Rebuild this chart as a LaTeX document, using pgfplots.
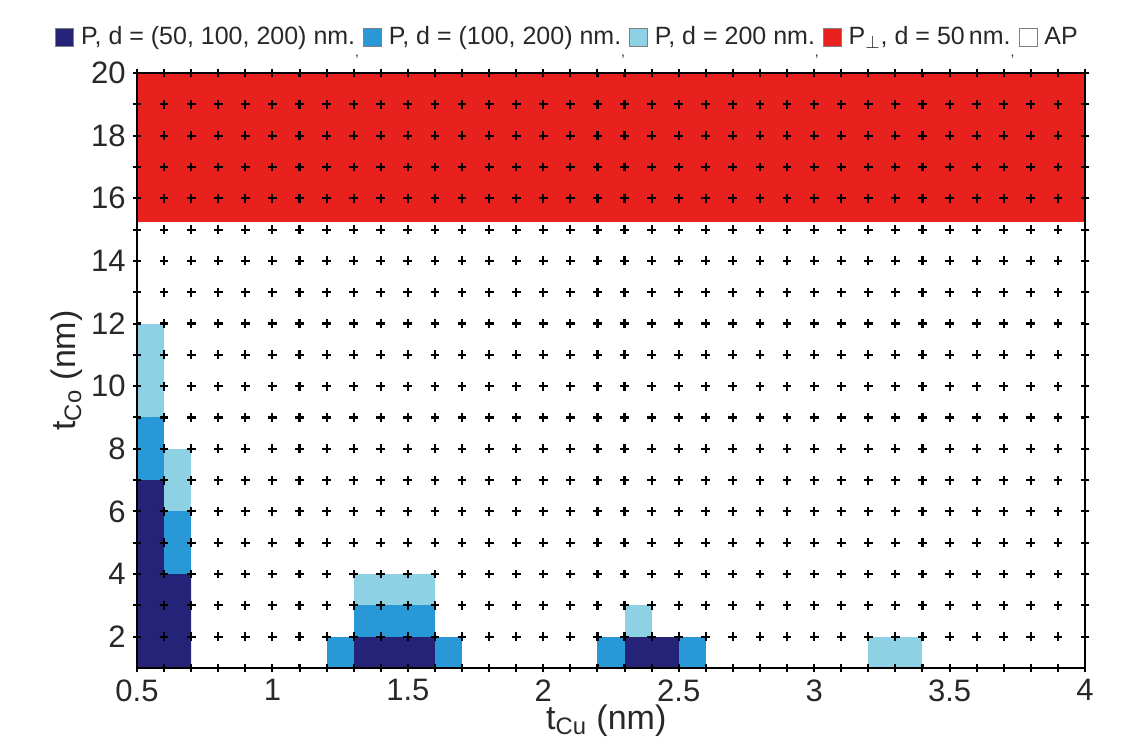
\documentclass[border=0pt]{standalone}
\usepackage{fontspec}
\setmainfont{Liberation Sans}
\usepackage{pgfplots}
\pgfplotsset{compat=1.18}
\definecolor{darkb}{RGB}{37,35,120}
\definecolor{medb}{RGB}{40,152,214}
\definecolor{lightb}{RGB}{142,208,228}
\definecolor{redc}{RGB}{232,33,30}
\definecolor{txt}{RGB}{40,40,40}
\newcommand\lc{\raisebox{-6pt}{\fontsize{7}{7}\selectfont,}}
\begin{document}
\begin{tikzpicture}
\begin{axis}[
  scale only axis, width=474pt, height=297.5pt,
  xmin=0.5, xmax=4, ymin=1, ymax=20,
  xtick={0.5,1,...,4}, minor x tick num=4,
  ytick={2,4,...,20}, minor y tick num=1,
  xticklabels={0.5,1,1.5,2,2.5,3,3.5,4},
  tick align=center, major tick length=4.4pt, minor tick length=4.4pt,
  tick style={black, line width=1pt},
  axis line style={black, line width=1.2pt},
  grid=both,
  major grid style={black, line width=1.05pt},
  minor grid style={black, line width=1.05pt},
  x grid style={dash pattern=on 4.4pt off 11.257895pt, dash phase=2.2pt},
  y grid style={dash pattern=on 4.4pt off 9.142857pt, dash phase=2.2pt},
  axis on top,
  /pgf/number format/assume math mode=true,
  ticklabel style={font=\fontsize{15.5}{18}\selectfont, text=txt},
  xlabel={t\textsubscript{Cu} (nm)},
  ylabel={t\textsubscript{Co} (nm)},
  every axis x label/.style={at={(axis description cs:0.495,0)}, anchor=base, yshift=-30.5pt,
    font=\fontsize{17}{20}\selectfont, text=txt},
  every axis y label/.style={at={(axis description cs:-0.0738,0.5)}, anchor=center, rotate=90,
    font=\fontsize{17}{20}\selectfont, text=txt},
  legend columns=-1,
  legend image code/.code={\draw[#1] (0pt,-4.5pt) rectangle (9pt,4.5pt);},
  legend style={at={(axis description cs:-0.0865,1.0605)}, anchor=west, draw=none, fill=none,
    font=\fontsize{12.5}{14}\selectfont, text=txt, inner xsep=0pt,
    nodes={inner xsep=2pt}},
]
% P perpendicular, d = 50 nm
\addplot[fill=redc, draw=none, forget plot] coordinates {(0.5,15.25) (0.5,20) (4,20) (4,15.25)} -- cycle;
% P, d = (50,100,200) nm
\addplot[fill=darkb, draw=none, forget plot] coordinates {(0.5,1) (0.5,7) (0.6,7) (0.6,4) (0.7,4) (0.7,1)} -- cycle;
\addplot[fill=darkb, draw=none, forget plot] coordinates {(1.3,1) (1.3,2) (1.6,2) (1.6,1)} -- cycle;
\addplot[fill=darkb, draw=none, forget plot] coordinates {(2.3,1) (2.3,2) (2.5,2) (2.5,1)} -- cycle;
% P, d = (100,200) nm
\addplot[fill=medb, draw=none, forget plot] coordinates {(0.5,7) (0.5,9) (0.6,9) (0.6,7)} -- cycle;
\addplot[fill=medb, draw=none, forget plot] coordinates {(0.6,4) (0.6,6) (0.7,6) (0.7,4)} -- cycle;
\addplot[fill=medb, draw=none, forget plot] coordinates {(1.2,1) (1.2,2) (1.3,2) (1.3,1)} -- cycle;
\addplot[fill=medb, draw=none, forget plot] coordinates {(1.3,2) (1.3,3) (1.6,3) (1.6,2)} -- cycle;
\addplot[fill=medb, draw=none, forget plot] coordinates {(1.6,1) (1.6,2) (1.7,2) (1.7,1)} -- cycle;
\addplot[fill=medb, draw=none, forget plot] coordinates {(2.2,1) (2.2,2) (2.3,2) (2.3,1)} -- cycle;
\addplot[fill=medb, draw=none, forget plot] coordinates {(2.5,1) (2.5,2) (2.6,2) (2.6,1)} -- cycle;
% P, d = 200 nm
\addplot[fill=lightb, draw=none, forget plot] coordinates {(0.5,9) (0.5,12) (0.6,12) (0.6,9)} -- cycle;
\addplot[fill=lightb, draw=none, forget plot] coordinates {(0.6,6) (0.6,8) (0.7,8) (0.7,6)} -- cycle;
\addplot[fill=lightb, draw=none, forget plot] coordinates {(1.3,3) (1.3,4) (1.6,4) (1.6,3)} -- cycle;
\addplot[fill=lightb, draw=none, forget plot] coordinates {(2.3,2) (2.3,3) (2.4,3) (2.4,2)} -- cycle;
\addplot[fill=lightb, draw=none, forget plot] coordinates {(3.2,1) (3.2,2) (3.4,2) (3.4,1)} -- cycle;
% legend
\addlegendimage{fill=darkb, draw=gray, line width=0.4pt}
\addlegendentry{\hspace{1.5pt}P, d = (50, 100, 200) nm.\lc\hspace{4pt}}
\addlegendimage{fill=medb, draw=gray, line width=0.4pt}
\addlegendentry{\hspace{1.5pt}P, d = (100, 200) nm.\lc\hspace{4pt}}
\addlegendimage{fill=lightb, draw=gray, line width=0.4pt}
\addlegendentry{\hspace{1.5pt}P, d = 200 nm.\lc\hspace{4pt}}
\addlegendimage{fill=redc, draw=gray, line width=0.4pt}
\addlegendentry{\hspace{1.5pt}P$_{\perp}$, d = 50\,nm.\lc\hspace{4pt}}
\addlegendimage{fill=white, draw=gray, line width=0.4pt}
\addlegendentry{\hspace{1.5pt}AP}
\coordinate (sw) at (rel axis cs:0,0);
\coordinate (ne) at (rel axis cs:1,1);
\end{axis}
\pgfresetboundingbox
\path[use as bounding box] ([shift={(-68.5pt,-41pt)}]sw) rectangle ([shift={(27.5pt,36.5pt)}]ne);
\end{tikzpicture}
\end{document}
